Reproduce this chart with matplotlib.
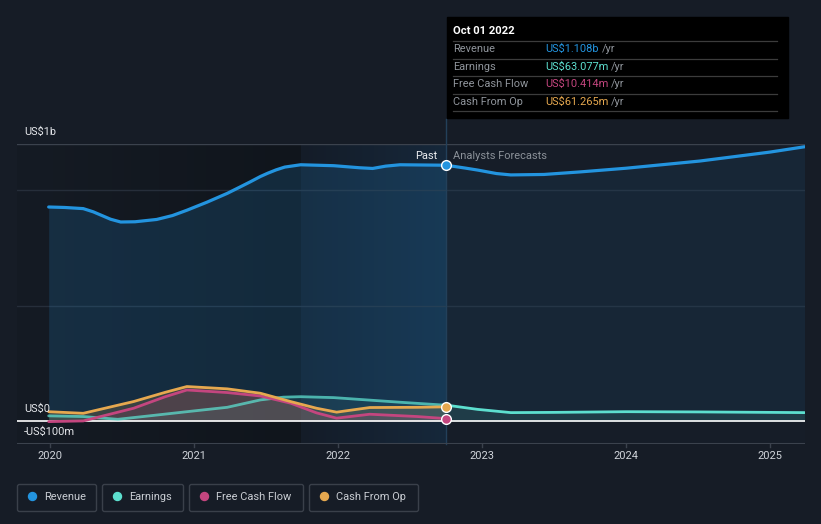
import matplotlib.pyplot as plt
import matplotlib.colors as mcolors
from matplotlib.patches import FancyBboxPatch, Rectangle, Circle
import numpy as np

plt.rcParams['font.family'] = ['Roboto', 'DejaVu Sans']

W, H = 821, 524

# values in US$ millions, x in decimal years
rev_past_x = [2019.99, 2020.10, 2020.23, 2020.30, 2020.36, 2020.42, 2020.49, 2020.59, 2020.74,
              2020.85, 2020.95, 2021.09, 2021.23, 2021.32, 2021.39, 2021.46, 2021.51, 2021.57,
              2021.63, 2021.74, 2021.97, 2022.15, 2022.24, 2022.33, 2022.43, 2022.75]
rev_past = [927, 925, 920, 906, 890, 874, 862, 863, 873,
            890, 913, 948, 986, 1014, 1036, 1059, 1073, 1088,
            1100, 1110, 1106, 1097, 1094, 1104, 1110, 1108]
rev_fc_x = [2022.75, 2022.88, 2022.97, 2023.10, 2023.20, 2023.43, 2023.68, 2024.00, 2024.51,
            2025.00, 2025.24]
rev_fc = [1108, 1096, 1087, 1072, 1066, 1068, 1079, 1095, 1126, 1165, 1188]

earn_past_x = [2019.99, 2020.23, 2020.47, 2020.69, 2020.95, 2021.23, 2021.46, 2021.62, 2021.74,
               2021.97, 2022.20, 2022.43, 2022.75]
earn_past = [22, 19, 7, 22, 40, 59, 91, 103, 105, 101, 91, 81, 68]
earn_fc_x = [2022.75, 2022.78, 2022.97, 2023.20, 2023.50, 2024.00, 2024.50, 2025.00, 2025.24]
earn_fc = [68, 66, 50, 36, 37, 40, 39, 37, 36]

cash_x = [2019.99, 2020.23, 2020.58, 2020.80, 2020.95, 2021.23, 2021.46, 2021.67, 2021.85,
          2021.99, 2022.22, 2022.55, 2022.75]
cfo = [40, 33, 84, 124, 149, 139, 120, 84, 55, 38, 58, 59, 61]
fcf = [-3, 0, 55, 105, 134, 123, 108, 77, 35, 12, 29, 19, 10]

years = [2020, 2021, 2022, 2023, 2024, 2025]
now_x = 2022.75

C_REV = '#2394df'
C_EARN = '#5ddfcf'
C_FCF = '#c4467f'
C_CFO = '#e6a84f'
BG = '#161c26'
FS = 7.9

fig = plt.figure(figsize=(W / 100, H / 100), dpi=100, facecolor=BG)


def box(x0, y0, x1, y1):
    return [x0 / W, 1 - y1 / H, (x1 - x0) / W, (y1 - y0) / H]


ax = fig.add_axes(box(17, 144, 805, 444))
ax.set_facecolor('#161d28')
XMIN, XMAX, YMIN, YMAX = 2019.77, 2025.243, -100, 1200


def hgrad(c0, c1, x0, x1, z):
    a = np.array(mcolors.to_rgb(c0))
    b = np.array(mcolors.to_rgb(c1))
    t = np.linspace(0, 1, 256)[None, :, None]
    ax.imshow(a + (b - a) * t, extent=[x0, x1, YMIN, YMAX], aspect='auto',
              zorder=z, interpolation='bicubic')


# past backgrounds
hgrad('#151b24', '#10151c', XMIN, 2021.74, 0.2)
hgrad('#141c28', '#16283b', 2021.74, now_x, 0.2)

# gridlines
for g in [500, 1000]:
    ax.axhline(g, color='#262e3a', lw=1, zorder=0.5)
ax.axhline(1200, color='#3b424d', lw=1, zorder=0.5)

# revenue fills
ax.fill_between(rev_past_x, rev_past, 0, color=C_REV, alpha=0.17, lw=0, zorder=1)
ax.fill_between(rev_fc_x, rev_fc, 0, color=C_REV, alpha=0.08, lw=0, zorder=1)

# smaller series fills
ax.fill_between(cash_x, cfo, 0, color=C_CFO, alpha=0.18, lw=0, zorder=1.1)
ax.fill_between(cash_x, fcf, 0, color=C_FCF, alpha=0.15, lw=0, zorder=1.1)
ax.fill_between(earn_past_x, earn_past, 0, color=C_EARN, alpha=0.08, lw=0, zorder=1.1)
ax.fill_between(earn_fc_x, earn_fc, 0, color=C_EARN, alpha=0.12, lw=0, zorder=1.1)

# zero line and bottom axis
ax.axhline(0, color='white', lw=1.2, zorder=2)
ax.axhline(-100, color='#3b424d', lw=1.5, zorder=2)
for yr in years:
    ax.plot([yr, yr], [-100, -115], color='#3b424d', lw=1, clip_on=False, zorder=2)
    ax.text(yr, -150, str(yr), color='#d0d4da', fontsize=FS, ha='center', va='center')

# now marker line
ax.plot([now_x, now_x], [YMIN, 1310], color='#23405a', lw=1, clip_on=False, zorder=1.5)

# series lines
lw_small = 2.0
ax.plot(earn_past_x, earn_past, color=C_EARN, lw=lw_small, alpha=0.75, zorder=3,
        solid_capstyle='round', solid_joinstyle='round')
ax.plot(earn_fc_x, earn_fc, color=C_EARN, lw=lw_small, zorder=3,
        solid_capstyle='round', solid_joinstyle='round')
ax.plot(cash_x, fcf, color=C_FCF, lw=lw_small, zorder=3.1,
        solid_capstyle='round', solid_joinstyle='round')
ax.plot(cash_x, cfo, color=C_CFO, lw=lw_small, zorder=3.2,
        solid_capstyle='round', solid_joinstyle='round')
ax.plot(rev_past_x, rev_past, color=C_REV, lw=2.3, zorder=3.3,
        solid_capstyle='round', solid_joinstyle='round')
ax.plot(rev_fc_x, rev_fc, color=C_REV, lw=2.3, zorder=3.3,
        solid_capstyle='round', solid_joinstyle='round')

for val, col in [(rev_past[-1], C_REV), (cfo[-1], C_CFO), (fcf[-1], C_FCF)]:
    ax.plot([now_x], [val], 'o', ms=7, mfc=col, mec='white', mew=1, zorder=4)

ax.set_xlim(XMIN, XMAX)
ax.set_ylim(YMIN, YMAX)
for s in ax.spines.values():
    s.set_visible(False)
ax.set_xticks([])
ax.set_yticks([])

# overlay in pixel coords
ov = fig.add_axes([0, 0, 1, 1])
ov.set_xlim(0, W)
ov.set_ylim(H, 0)
ov.axis('off')
ov.patch.set_alpha(0)

ov.text(24, 132, 'US$1b', color='#e4e6ea', fontsize=FS, va='center')
ov.text(24, 409, 'US$0', color='#e4e6ea', fontsize=FS, va='center')
ov.text(24, 432, '-US$100m', color='#e4e6ea', fontsize=FS, va='center')

ov.text(437, 156, 'Past', color='#eceef1', fontsize=FS, ha='right', va='center')
ov.text(453, 156, 'Analysts Forecasts', color='#8b9199', fontsize=FS, va='center')

# tooltip
ov.add_patch(Rectangle((447, 17), 341, 101, color='black', zorder=5))
ov.text(453, 31, 'Oct 01 2022', color='white', fontsize=8.1, fontweight='bold',
        va='center', zorder=6)
for ly in [41, 58.7, 76.3, 93.7, 111.3]:
    ov.plot([453, 777], [ly, ly], color='#3c3c3c', lw=0.9, zorder=6)

tip_labels = ['Revenue', 'Earnings', 'Free Cash Flow', 'Cash From Op']
tip_values = ['US$1.108b', 'US$63.077m', 'US$10.414m', 'US$61.265m']
tip_colors = [C_REV, C_EARN, C_FCF, C_CFO]
tip_rows = [49, 66.7, 84.3, 101.7]

fig.canvas.draw()
rend = fig.canvas.get_renderer()
inv = ov.transData.inverted()
for lab, val, col, ry in zip(tip_labels, tip_values, tip_colors, tip_rows):
    ov.text(453, ry, lab, color='#8f949b', fontsize=FS, va='center', zorder=6)
    t = ov.text(545, ry, val, color=col, fontsize=FS, va='center', zorder=6)
    bb = t.get_window_extent(renderer=rend)
    xend = inv.transform((bb.x1, bb.y0))[0]
    ov.text(xend + 3, ry, '/yr', color='#8f949b', fontsize=FS, va='center', zorder=6)

# legend
leg_labels = ['Revenue', 'Earnings', 'Free Cash Flow', 'Cash From Op']
leg_colors = [C_REV, C_EARN, C_FCF, C_CFO]
leg_boxes = [(17, 97), (102, 184), (189, 304), (309, 419)]
for lab, col, (x0, x1) in zip(leg_labels, leg_colors, leg_boxes):
    ov.add_patch(FancyBboxPatch((x0 + 0.5, 484.5), x1 - x0 - 1, 27,
                                boxstyle='round,pad=0,rounding_size=2',
                                fc='none', ec='#3a404a', lw=1))
    ov.add_patch(Circle((x0 + 15.5, 496.5), 4, color=col))
    ov.text(x0 + 27.5, 497, lab, color='#c9cdd3', fontsize=FS, va='center')

fig.savefig('out.png', dpi=100, facecolor=BG)
